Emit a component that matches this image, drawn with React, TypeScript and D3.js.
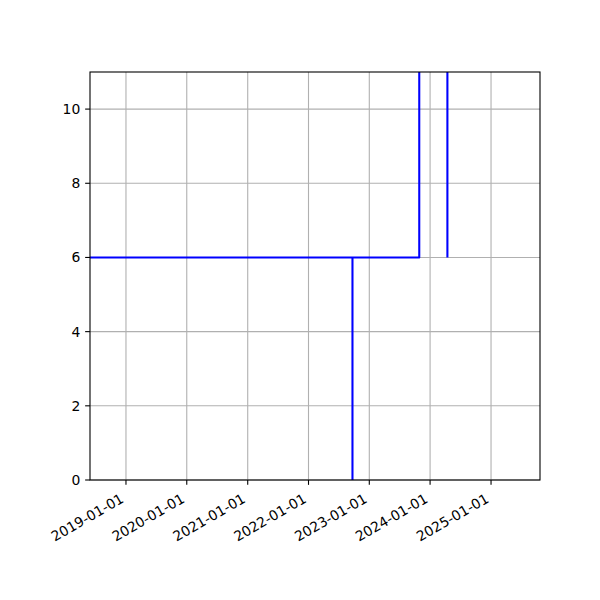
import React from "react";
import * as d3 from "d3";

const lineDates: string[] = [
  "2018-05-30",
  "2022-09-22",
  "2022-09-22",
  "2022-09-22",
  "2023-10-28",
  "2023-10-28",
  "2024-04-14",
  "2024-04-14",
];
const lineValues: number[] = [6, 6, 0, 6, 6, 12, 12, 6];

const xDomain: string[] = ["2018-05-30", "2025-10-22"];
const xTickDates: string[] = [
  "2019-01-01",
  "2020-01-01",
  "2021-01-01",
  "2022-01-01",
  "2023-01-01",
  "2024-01-01",
  "2025-01-01",
];
const yDomain: number[] = [0, 11];
const yTicks: number[] = [0, 2, 4, 6, 8, 10];

const W = 600;
const H = 600;
const L = 90;
const R = 540;
const T = 72;
const B = 480;
const FONT = "'DejaVu Sans', sans-serif";
const FS = 13.9;
const TICK = 4.86;

export default function App() {
  const parse = d3.utcParse("%Y-%m-%d");
  const x = d3
    .scaleUtc()
    .domain(xDomain.map((d) => parse(d) as Date))
    .range([L, R]);
  const y = d3.scaleLinear().domain(yDomain).range([B, T]);

  const pts = lineDates.map((d, i) => ({ date: parse(d) as Date, v: lineValues[i] }));
  const path = d3
    .line<{ date: Date; v: number }>()
    .x((d) => x(d.date))
    .y((d) => y(d.v))(pts) as string;

  return (
    <svg
      width={W}
      height={H}
      style={{ position: "absolute", left: 0, top: 0, background: "#fff" }}
    >
      <defs>
        <clipPath id="plotclip">
          <rect x={L} y={T} width={R - L} height={B - T} />
        </clipPath>
      </defs>
      <rect x={0} y={0} width={W} height={H} fill="#fff" />
      {/* grid */}
      <g stroke="#b0b0b0" strokeWidth={1.1}>
        {xTickDates.map((t) => {
          const xx = x(parse(t) as Date);
          return <line key={"gx" + t} x1={xx} x2={xx} y1={T} y2={B} />;
        })}
        {yTicks.map((t) => (
          <line key={"gy" + t} x1={L} x2={R} y1={y(t)} y2={y(t)} />
        ))}
      </g>
      {/* data */}
      <path
        d={path}
        fill="none"
        stroke="#0000ff"
        strokeWidth={2.08}
        strokeLinejoin="round"
        clipPath="url(#plotclip)"
      />
      {/* spines */}
      <rect x={L} y={T} width={R - L} height={B - T} fill="none" stroke="#000" strokeWidth={1.1} />
      {/* x ticks */}
      <g>
        {xTickDates.map((t) => {
          const xx = x(parse(t) as Date);
          return (
            <g key={"xt" + t}>
              <line x1={xx} x2={xx} y1={B} y2={B + TICK} stroke="#000" strokeWidth={1.1} />
              <text
                transform={`translate(${xx - 1.2},${B + 21.5}) rotate(-30)`}
                textAnchor="end"
                fontFamily={FONT}
                fontSize={FS}
                fill="#000"
              >
                {t}
              </text>
            </g>
          );
        })}
      </g>
      {/* y ticks */}
      <g>
        {yTicks.map((t) => (
          <g key={"yt" + t}>
            <line x1={L - TICK} x2={L} y1={y(t)} y2={y(t)} stroke="#000" strokeWidth={1.1} />
            <text
              x={L - 2 * TICK}
              y={y(t)}
              dy="0.36em"
              textAnchor="end"
              fontFamily={FONT}
              fontSize={FS}
              fill="#000"
            >
              {t}
            </text>
          </g>
        ))}
      </g>
    </svg>
  );
}
